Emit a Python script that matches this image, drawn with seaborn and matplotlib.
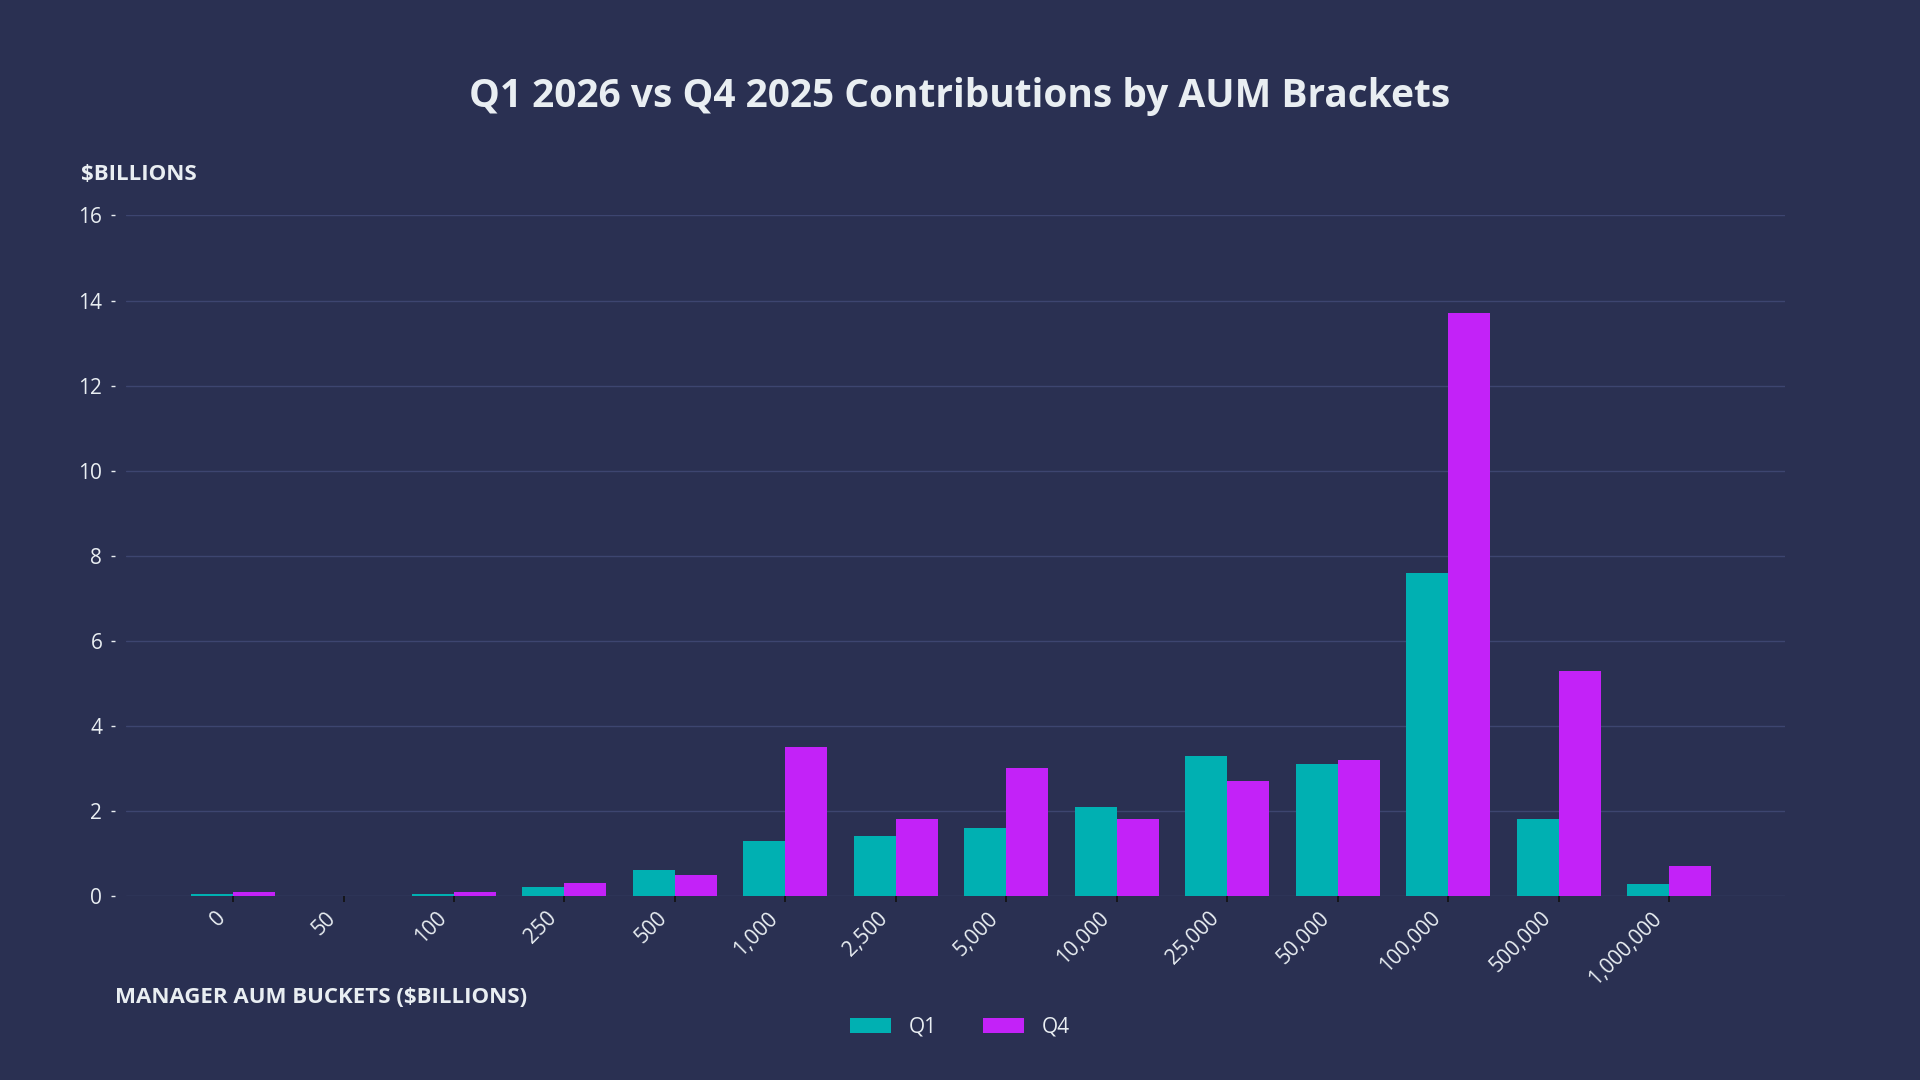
import pandas as pd
import matplotlib.pyplot as plt
import matplotlib.transforms as mtransforms
import seaborn as sns

brackets = ["0", "50", "100", "250", "500", "1,000", "2,500", "5,000", "10,000",
            "25,000", "50,000", "100,000", "500,000", "1,000,000"]
q1_values = [0.05, 0.0, 0.05, 0.2, 0.6, 1.3, 1.4, 1.6, 2.1, 3.3, 3.1, 7.6, 1.8, 0.28]
q4_values = [0.1, 0.0, 0.1, 0.3, 0.5, 3.5, 1.8, 3.0, 1.8, 2.7, 3.2, 13.7, 5.3, 0.7]
series = ["Q1", "Q4"]
colors = ["#00B0B2", "#C322F8"]

bg = "#2A3052"
txt = "#E9EEF2"
grid = "#3D4570"

df = pd.DataFrame({
    "Bracket": brackets * 2,
    "Quarter": [series[0]] * len(brackets) + [series[1]] * len(brackets),
    "Value": q1_values + q4_values,
})

sns.set_theme(style="dark")
plt.rcParams["font.family"] = ["Open Sans", "DejaVu Sans"]

fig = plt.figure(figsize=(19.2, 10.8), dpi=100, facecolor=bg)
ax = fig.add_axes([0.0656, 0.1704, 0.8641, 0.6301])
ax.set_facecolor(bg)

sns.barplot(
    data=df, x="Bracket", y="Value", hue="Quarter", order=brackets,
    hue_order=series, palette=colors, width=0.76, saturation=1,
    linewidth=0, ax=ax,
)

ax.set_xlim(-0.97, 14.05)
ax.set_ylim(0, 16)
ax.set_yticks(range(0, 17, 2))
ax.grid(axis="y", color=grid, linewidth=1)
ax.grid(axis="x", visible=False)
ax.set_axisbelow(True)
for s in ax.spines.values():
    s.set_visible(False)
# ticks sit a little away from the plot area, like the original
ax.spines["left"].set_position(("outward", 8))

ax.tick_params(axis="y", colors=txt, labelsize=15, length=3, width=1, pad=6, left=True)
ax.tick_params(axis="x", colors="#111111", labelcolor=txt, labelsize=15,
               length=4, width=1.2, bottom=True, pad=4)
shift = mtransforms.ScaledTranslation(-0.11, -0.08, fig.dpi_scale_trans)
for lab in ax.get_xticklabels():
    lab.set_rotation(45)
    lab.set_ha("right")
    lab.set_va("center")
    lab.set_rotation_mode("anchor")
    lab.set_transform(lab.get_transform() + shift)

ax.set_xlabel("")
ax.set_ylabel("")

fig.text(0.5, 0.911, "Q1 2026 vs Q4 2025 Contributions by AUM Brackets",
         ha="center", va="center", color=txt, fontsize=28, fontweight="bold")
fig.text(0.042, 0.838, "$BILLIONS", ha="left", va="center", color=txt,
         fontsize=16, fontweight="bold")
fig.text(0.06, 0.076, "MANAGER AUM BUCKETS ($BILLIONS)", ha="left", va="center",
         color=txt, fontsize=16, fontweight="bold")

handles, labels = ax.get_legend_handles_labels()
ax.legend_.remove()
leg = fig.legend(handles, labels, loc="center", bbox_to_anchor=(0.5, 0.049), ncol=2,
                 frameon=False, fontsize=15, handlelength=1.97, handleheight=0.72,
                 columnspacing=2.2, handletextpad=0.85)
for t in leg.get_texts():
    t.set_color(txt)

fig.savefig("out.png", dpi=100, facecolor=bg)
